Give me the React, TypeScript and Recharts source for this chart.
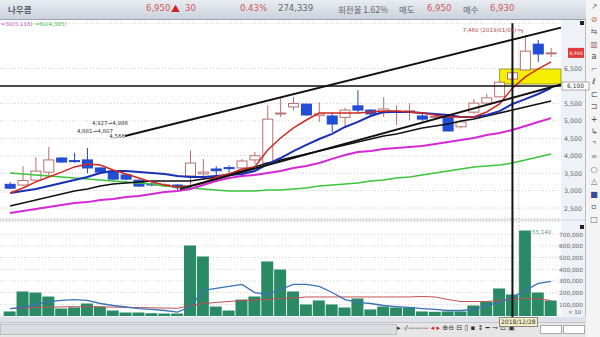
import React from 'react';
import {
  ComposedChart, Bar, Line, XAxis, YAxis, CartesianGrid,
  ReferenceLine, ReferenceArea, ReferenceDot,
} from 'recharts';

// ---------- data ----------
const opens = [3180,3160,3300,3530,3935,3860,3880,3650,3560,3450,3300,3190,3150,3160,3420,3480,3620,3660,3650,3880,3790,5200,5400,5480,5150,5140,5100,5430,5310,5230,5250,5250,5140,5100,5110,4830,5250,5510,5690,6200,6460,7200,6940];
const highs = [3240,3700,3960,4250,3960,4080,4220,3670,3580,3480,3320,3280,3210,3180,4150,3900,3700,3720,3900,4110,5450,5680,5690,5500,5530,5230,5370,5880,5330,5680,5450,5500,5200,5200,5150,5000,5630,5780,6130,6420,7460,7320,7090];
const lows = [3040,3130,3250,3400,3800,3800,3500,3480,3300,3290,3100,3120,3100,3020,3020,3300,3420,3520,3600,3750,3740,5110,5300,5150,4970,4680,4820,5220,5150,5110,4880,5020,5000,5050,4700,4780,5200,5450,5680,6150,6450,6690,6830];
const closes = [3070,3290,3560,3880,3820,3845,3650,3530,3330,3330,3130,3170,3170,3100,3790,3530,3570,3630,3850,4000,5050,5225,5500,5170,5200,4910,5310,5310,5200,5340,5280,5290,5050,5130,4710,4970,5510,5660,6110,6380,7000,6920,6950];
const volumes = [39000,210000,201000,167000,64000,73000,107000,81000,47000,30000,30000,24000,21000,21000,604000,510000,81000,47000,141000,167000,467000,398000,210000,99000,133000,99000,73000,150000,56000,81000,73000,73000,39000,36000,39000,39000,90000,124000,236000,184000,733000,201000,133000];

const ma5 = [2930,3075,3250,3390,3530,3680,3760,3735,3590,3475,3360,3250,3160,3100,3130,3220,3390,3475,3620,3680,4165,4510,4800,5025,5225,5225,5225,5225,5255,5280,5280,5255,5225,5170,5110,5110,5110,5255,5485,5940,6260,6490,6690];
const ma10 = [2930,2990,3045,3130,3220,3305,3390,3505,3560,3560,3535,3505,3475,3420,3390,3390,3420,3450,3475,3560,3760,3935,4135,4310,4480,4625,4825,4970,5140,5255,5255,5255,5225,5200,5170,5110,5110,5170,5280,5485,5625,5770,5940];
const ma20 = [2560,2645,2730,2815,2900,2990,3045,3130,3190,3220,3250,3275,3275,3275,3275,3335,3390,3475,3560,3680,3790,3880,3965,4050,4135,4220,4310,4395,4480,4565,4625,4710,4795,4850,4910,4995,5055,5140,5225,5310,5400,5485,5570];
const ma60 = [2360,2415,2470,2530,2585,2645,2670,2730,2760,2815,2845,2900,2960,2990,3045,3160,3275,3360,3420,3450,3505,3560,3650,3705,3790,3910,4020,4110,4135,4195,4220,4250,4280,4335,4395,4450,4510,4595,4650,4740,4855,4970,5080];
const ma120 = [3505,3475,3450,3420,3390,3360,3335,3305,3275,3250,3220,3190,3130,3100,3075,3045,3020,2990,2990,2990,3020,3020,3045,3075,3130,3160,3190,3220,3275,3305,3360,3390,3450,3505,3560,3620,3680,3705,3735,3790,3880,3965,4050];
const volMa5 = [64000,73000,99000,124000,133000,141000,133000,107000,90000,77000,64000,56000,47000,34000,81000,219000,236000,253000,270000,201000,184000,227000,270000,270000,253000,201000,141000,116000,107000,90000,81000,73000,64000,56000,47000,47000,56000,90000,116000,159000,219000,279000,296000];
const volMa20 = [64000,68000,72000,76000,78000,80000,80000,78000,76000,74000,72000,70000,68000,66000,90000,107000,116000,124000,133000,137000,141000,150000,154000,163000,163000,163000,163000,163000,163000,163000,163000,163000,167000,163000,141000,124000,124000,124000,133000,141000,150000,146000,133000];

const priceTicks = [2500, 3000, 3500, 4000, 4500, 5000, 5500, 6000, 6500];
const volumeTicks = [100000, 200000, 300000, 400000, 500000, 600000, 700000];

// drawn objects (index, price)
const upperChannel = [{ x: 8.92, y: 4566 }, { x: 42.77, y: 7675 }];
const supportLine = [{ x: 13.19, y: 3046 }, { x: 42.77, y: 6043 }];
const resistancePrice = 6000;
const currentPrice = 6950;
const crosshairIndex = 39;
const yearBoundary = 39.5;
const highlightBox = { x1: 38.0, x2: 42.77, y1: 6057, y2: 6487 };
const highIndex = 40;
const highPrice = 7460;
const lowIndex = 14;
const lowPrice = 3020;

const X_DOMAIN: [number, number] = [-0.784, 42.77];
const VOL_DOMAIN: [number, number] = [0, 805000];
// crosshair in the volume pane runs from the pane gap down to the bottom bar
const volCrosshair = [{ x: crosshairIndex, y: -40000 }, { x: crosshairIndex, y: 870000 }];

const data = opens.map((o, i) => ({
  i, open: o, high: highs[i], low: lows[i], close: closes[i], vol: volumes[i],
  ma5: ma5[i], ma10: ma10[i], ma20: ma20[i], ma60: ma60[i], ma120: ma120[i],
  volMa5: volMa5[i], volMa20: volMa20[i],
}));

const FONT = '"DejaVu Sans", Arial, sans-serif';
const KFONT = '"Noto Sans CJK KR", "DejaVu Sans", sans-serif';

const Candle = (props: any) => {
  const { x, y, width, height, payload } = props;
  if (x == null || payload == null) return null;
  const top = Math.min(y, y + height);
  const h = Math.abs(height);
  const { open, close, high, low } = payload;
  const k = high - low > 0 ? h / (high - low) : 0;
  const yO = top + (high - open) * k;
  const yC = top + (high - close) * k;
  const up = close >= open;
  const cx = x + width / 2;
  const bTop = Math.min(yO, yC);
  const bH = Math.max(1, Math.abs(yO - yC));
  const stroke = up ? '#b87070' : '#2445c8';
  return (
    <g>
      <line x1={cx} x2={cx} y1={top} y2={top + h} stroke={stroke} strokeWidth={1} />
      <rect x={x + 0.5} y={bTop} width={width - 1} height={bH} fill={up ? '#ffffff' : '#1f4fd8'} stroke={stroke} strokeWidth={1} />
    </g>
  );
};

const PriceTick = (p: any) => {
  const { y, payload } = p;
  if (payload.value === resistancePrice) return null;
  return (
    <text x={582} y={y + 2.5} textAnchor="end" fontSize={6.3} fill="#666" fontFamily={FONT}>
      {payload.value.toLocaleString('en-US')}
    </text>
  );
};

const VolTick = (p: any) => {
  const { y, payload } = p;
  return (
    <text x={583} y={y + 2.5} textAnchor="end" fontSize={5.8} fill="#666" fontFamily={FONT}>
      {payload.value.toLocaleString('en-US')}
    </text>
  );
};

const toolbarIcons = ['↗', '⊘', '⇆', '▥', 'a', '⌐', 'ℓ', '⊏', '⊐', '+', '↳', '⌝', '≡', '○', '△', '■', '▫', '□'];
const toolbarColors = ['#777', '#b86a30', '#777', '#a07070', '#444', '#666', '#444', '#666', '#666', '#444', '#555', '#444', '#888', '#666', '#666', '#3a4a9a', '#444', '#666'];

export default function App() {
  return (
    <div style={{ position: 'absolute', left: 0, top: 0, width: 600, height: 337, background: '#ffffff', overflow: 'hidden', fontFamily: FONT }}>
      {/* axis column background */}
      <div style={{ position: 'absolute', left: 561, top: 19, width: 24, height: 299, background: '#eef1f6' }} />
      <div style={{ position: 'absolute', left: 585, top: 0, width: 1, height: 337, background: '#b6bdc8' }} />
      {/* toolbar */}
      <div style={{ position: 'absolute', left: 586, top: 0, width: 14, height: 337, background: '#f4f4f4' }}>
        {toolbarIcons.map((t, k) => (
          <div key={k} style={{ position: 'absolute', left: 2, top: 1 + k * 12.5, width: 12, fontSize: 8, lineHeight: '11px', color: toolbarColors[k], textAlign: 'center', fontFamily: FONT }}>{t}</div>
        ))}
      </div>

      {/* header */}
      <div style={{ position: 'absolute', left: 0, top: 0, width: 586, height: 19, background: 'linear-gradient(#e9ecf1, #cbd2dc)', borderBottom: '1px solid #9aa3b0', fontSize: 8.5, color: '#666', fontFamily: KFONT }}>
        <span style={{ position: 'absolute', left: 8, top: 3, color: '#5a6070', fontWeight: 700 }}>나우콤</span>
        <span style={{ position: 'absolute', left: 146, top: 3, color: '#d05858', fontFamily: FONT }}>6,950</span>
        <span style={{ position: 'absolute', left: 171, top: 2, color: '#d02020', fontSize: 9 }}>▲</span>
        <span style={{ position: 'absolute', left: 185, top: 3, color: '#d05858', fontFamily: FONT }}>30</span>
        <span style={{ position: 'absolute', left: 240, top: 3, color: '#d05858', fontFamily: FONT }}>0.43%</span>
        <span style={{ position: 'absolute', left: 278, top: 3, color: '#666', fontFamily: FONT }}>274,339</span>
        <span style={{ position: 'absolute', left: 338, top: 3, color: '#666' }}>회전율 1.62%</span>
        <span style={{ position: 'absolute', left: 399, top: 3, color: '#666' }}>매도</span>
        <span style={{ position: 'absolute', left: 427, top: 3, color: '#d05858', fontFamily: FONT }}>6,950</span>
        <span style={{ position: 'absolute', left: 463, top: 3, color: '#666' }}>매수</span>
        <span style={{ position: 'absolute', left: 490, top: 3, color: '#d05858', fontFamily: FONT }}>6,930</span>
      </div>

      {/* MA legend */}
      <div style={{ position: 'absolute', left: 1, top: 21, fontSize: 5.5, lineHeight: '7px', whiteSpace: 'nowrap', fontFamily: FONT }}>
        <span style={{ color: '#d040c0' }}>=30(5,116)</span>
        <span style={{ color: '#40c040', marginLeft: 2 }}>=60(4,385)</span>
      </div>
      <div style={{ position: 'absolute', left: 580, top: 21, width: 4, height: 4, background: '#222' }} />

      {/* panel separator */}
      <div style={{ position: 'absolute', left: 0, top: 219, width: 585, height: 2, background: '#dfe4ec' }} />

      {/* price chart */}
      <div style={{ position: 'absolute', left: 0, top: 0 }}>
        <ComposedChart width={600} height={222} data={data} margin={{ top: 23.25, right: 0, bottom: 3.5, left: 0 }}>
          <CartesianGrid vertical={false} stroke="#cfcfcf" strokeDasharray="1 2" />
          <XAxis dataKey="i" type="number" domain={X_DOMAIN} allowDataOverflow hide />
          <YAxis orientation="right" width={39} domain={[2200, 7800]} ticks={priceTicks} interval={0}
            axisLine={false} tickLine={false} tick={PriceTick} allowDataOverflow />
          <ReferenceArea x1={highlightBox.x1} x2={highlightBox.x2} y1={highlightBox.y1} y2={highlightBox.y2}
            fill="#f6f000" fillOpacity={1} stroke="#8a8a20" strokeWidth={0.8} ifOverflow="visible" />
          <ReferenceLine x={yearBoundary} stroke="#b8b8b8" strokeDasharray="1 2" />
          <Bar dataKey={(d: any) => [d.low, d.high]} barSize={11} shape={Candle} isAnimationActive={false} />
          <Line dataKey="ma120" stroke="#3cc43c" strokeWidth={1.5} dot={false} activeDot={false} isAnimationActive={false} />
          <Line dataKey="ma60" stroke="#d428d4" strokeWidth={2} dot={false} activeDot={false} isAnimationActive={false} />
          <Line dataKey="ma20" stroke="#111111" strokeWidth={1.5} dot={false} activeDot={false} isAnimationActive={false} />
          <Line dataKey="ma10" stroke="#1c2fb4" strokeWidth={2} dot={false} activeDot={false} isAnimationActive={false} />
          <Line dataKey="ma5" stroke="#d02a20" strokeWidth={1.5} dot={false} activeDot={false} isAnimationActive={false} />
          <ReferenceLine segment={upperChannel} stroke="#111" strokeWidth={2} ifOverflow="visible" />
          <ReferenceLine segment={supportLine} stroke="#111" strokeWidth={2} ifOverflow="visible" />
          <ReferenceLine y={resistancePrice} stroke="#111" strokeWidth={1.5}
            label={(p: any) => {
              const vb = p.viewBox || {};
              const rx = (vb.x || 0) + (vb.width || 0) + 1;
              const ry = vb.y || 0;
              return (
                <g>
                  <rect x={rx} y={ry - 4} width={27} height={8} fill="#ffffff" stroke="#777" strokeWidth={0.6} />
                  <text x={rx + 13.5} y={ry + 2.3} textAnchor="middle" fontSize={6} fill="#333" fontFamily={FONT}>6,100</text>
                </g>
              );
            }} />
          <ReferenceLine x={crosshairIndex} stroke="#111" strokeWidth={2} ifOverflow="visible" />
          <ReferenceDot x={X_DOMAIN[1]} y={currentPrice} r={0} ifOverflow="visible"
            shape={(p: any) => (
              <g>
                <rect x={p.cx + 7} y={p.cy - 5} width={16} height={10} fill="#e23a3a" />
                <text x={p.cx + 15} y={p.cy + 2} textAnchor="middle" fontSize={4.6} fill="#fff" fontFamily={FONT}>6,950</text>
              </g>
            )} />
          <ReferenceDot x={highIndex} y={highPrice} r={0} ifOverflow="visible"
            shape={(p: any) => (
              <g>
                <text x={p.cx - 9} y={p.cy - 3} textAnchor="end" fontSize={5.5} fill="#b04848" fontFamily={FONT}>7,460 (2019/01/04)</text>
                <line x1={p.cx - 8} x2={p.cx - 3} y1={p.cy - 5} y2={p.cy - 5} stroke="#b04848" strokeWidth={0.8} />
                <line x1={p.cx - 3} x2={p.cx - 3} y1={p.cy - 5} y2={p.cy - 2} stroke="#b04848" strokeWidth={0.8} />
              </g>
            )} />
          <ReferenceDot x={lowIndex} y={lowPrice} r={0} ifOverflow="visible"
            shape={(p: any) => (
              <text x={p.cx - 1} y={p.cy - 1} textAnchor="end" fontSize={5} fill="#444" fontFamily={FONT}>3,020</text>
            )} />
          <ReferenceDot x={upperChannel[0].x} y={upperChannel[0].y} r={0} ifOverflow="visible"
            shape={(p: any) => (
              <g fontFamily={FONT} fontSize={5.5} fill="#333">
                <text x={p.cx + 3} y={p.cy - 11} textAnchor="end">4,927→4,986</text>
                <text x={p.cx - 12} y={p.cy - 3} textAnchor="end">4,881→4,807</text>
                <text x={p.cx} y={p.cy + 2} textAnchor="end">4,566</text>
              </g>
            )} />
        </ComposedChart>
      </div>

      {/* volume chart */}
      <div style={{ position: 'absolute', left: 0, top: 218 }}>
        <ComposedChart width={600} height={102} data={data} margin={{ top: 4, right: 0, bottom: 4, left: 0 }}>
          <CartesianGrid vertical={false} stroke="#cfcfcf" strokeDasharray="1 2" />
          <XAxis dataKey="i" type="number" domain={X_DOMAIN} allowDataOverflow hide />
          <YAxis orientation="right" width={39} domain={VOL_DOMAIN} ticks={volumeTicks} interval={0}
            axisLine={false} tickLine={false} tick={VolTick} allowDataOverflow />
          <ReferenceLine x={yearBoundary} stroke="#b8b8b8" strokeDasharray="1 2" />
          <Bar dataKey="vol" barSize={12} fill="#2b8a66" isAnimationActive={false} />
          <Line dataKey="volMa20" stroke="#c05050" strokeWidth={1} dot={false} activeDot={false} isAnimationActive={false} />
          <Line dataKey="volMa5" stroke="#3a72b8" strokeWidth={1.3} dot={false} activeDot={false} isAnimationActive={false} />
          <ReferenceLine segment={volCrosshair} stroke="#111" strokeWidth={2} ifOverflow="visible" />
        </ComposedChart>
      </div>
      <div style={{ position: 'absolute', left: 532, top: 229, fontSize: 5.5, color: '#5a9a80', whiteSpace: 'nowrap' }}>55,140</div>
      <div style={{ position: 'absolute', left: 580, top: 225, width: 4, height: 4, background: '#222' }} />
      <div style={{ position: 'absolute', left: 568, top: 309, fontSize: 5.5, color: '#555' }}>× 10</div>

      {/* bottom bar */}
      <div style={{ position: 'absolute', left: 0, top: 317, width: 586, height: 5, background: '#dde3ec' }} />
      <div style={{ position: 'absolute', left: 0, top: 322, width: 586, height: 15, background: '#e6e6e6', borderTop: '1px solid #c4c4c4' }} />
      <div style={{ position: 'absolute', left: 0, top: 324, width: 395, height: 9, background: '#dcdde0', border: '1px solid #c0c0c0' }} />
      <div style={{ position: 'absolute', left: 397, top: 323, height: 11, whiteSpace: 'nowrap', fontSize: 7, lineHeight: '11px', color: '#333', fontFamily: FONT }}>
        <span>▸ </span><span>-/——— </span><span style={{ color: '#d02020' }}>◂ ▸ </span><span>⊕⊖ ⊟ ▯ ▪ ↕ ━ ⊸ ⊡ ▣</span>
      </div>
      <div style={{ position: 'absolute', left: 540, top: 325, width: 20, height: 7, background: '#fff', border: '1px solid #aaa' }} />
      <div style={{ position: 'absolute', left: 563, top: 325, width: 20, height: 7, background: '#fff', border: '1px solid #aaa' }} />
      <div style={{ position: 'absolute', left: 499, top: 317, padding: '0 1px', height: 8, lineHeight: '8px', fontSize: 6, background: '#f2f0c4', border: '1px solid #888', color: '#333', whiteSpace: 'nowrap' }}>2018/12/28</div>
    </div>
  );
}
